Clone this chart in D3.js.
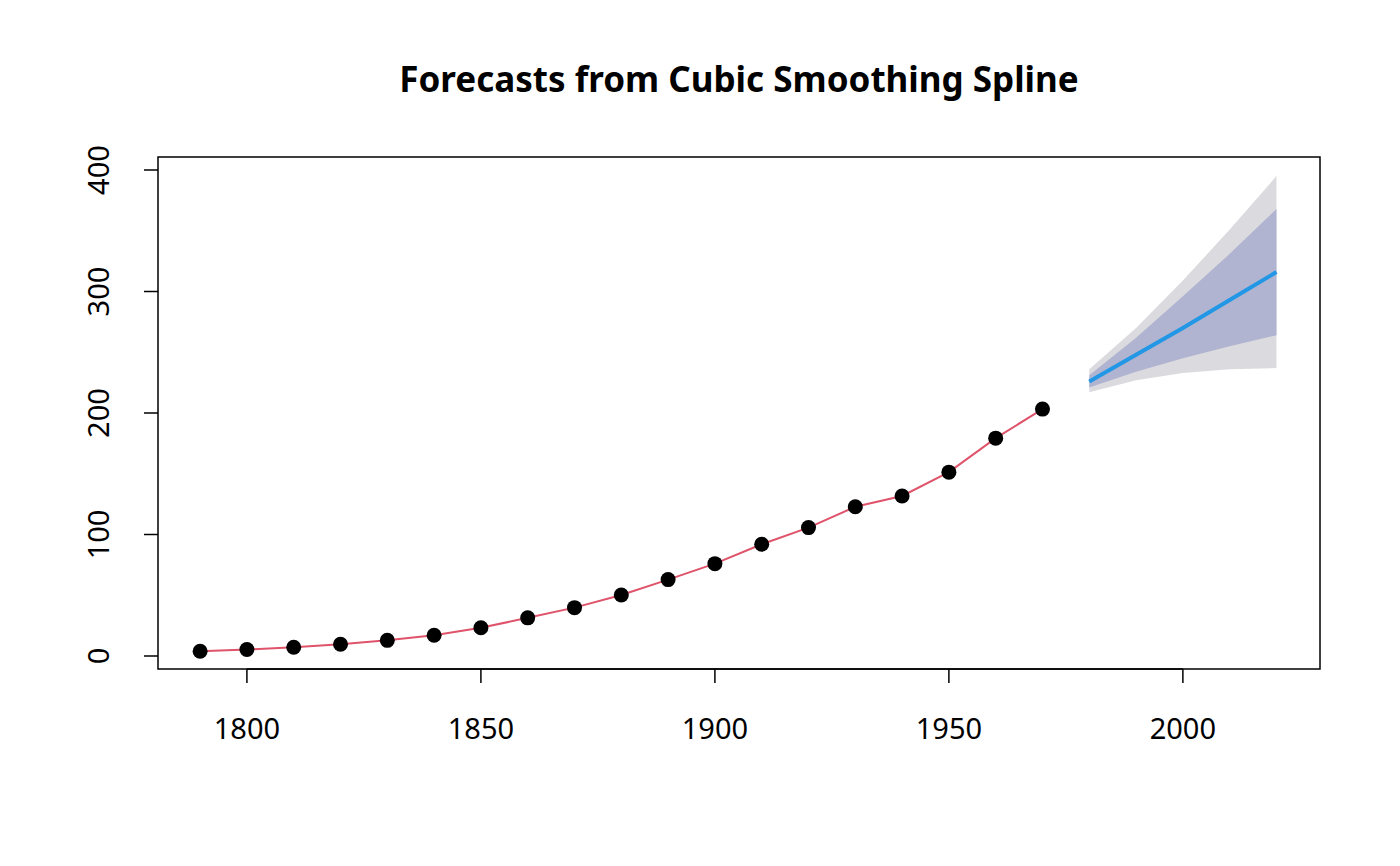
<!DOCTYPE html>
<html><head><meta charset="utf-8">
<script src="https://cdn.jsdelivr.net/npm/d3@7"></script>
<style>body{margin:0;background:#fff}text{font-family:"Noto Sans",sans-serif}</style>
</head><body><svg id="c" width="1400" height="866"></svg>
<script>
const years=[1790,1800,1810,1820,1830,1840,1850,1860,1870,1880,1890,1900,1910,1920,1930,1940,1950,1960,1970];
const pop=[3.93,5.31,7.24,9.64,12.9,17.1,23.2,31.4,39.8,50.2,62.9,76.0,92.0,105.7,122.8,131.7,151.3,179.3,203.2];
const fYears=[1980,1990,2000,2010,2020];
const fMean=[226,248,270,293,316];
const lo80=[221,234,245,255,264];
const hi80=[231,262,296,331,368];
const lo95=[217,227,233,236,237];
const hi95=[236,270,309,351,395];
const xTicks=[1800,1850,1900,1950,2000];
const yTicks=[0,100,200,300,400];

const svg=d3.select("#c");
const L=158,R=1320,T=157,B=669;
const x=d3.scaleLinear().domain([1781,2029.3]).range([L,R]);
const y=d3.scaleLinear().domain([-10.7,410.7]).range([B,T]);

svg.append("text").attr("x",739).attr("y",92).attr("text-anchor","middle")
 .attr("font-size",35).attr("font-weight","bold").text("Forecasts from Cubic Smoothing Spline");

const area=(lo,hi)=>d3.area().x((d,i)=>x(fYears[i])).y0((d,i)=>y(lo[i])).y1((d,i)=>y(hi[i]))(fYears);
svg.append("path").attr("d",area(lo95,hi95)).attr("fill","#dbdbdf");
svg.append("path").attr("d",area(lo80,hi80)).attr("fill","#b0b4d0");
svg.append("path").attr("d",d3.line().x((d,i)=>x(fYears[i])).y((d,i)=>y(fMean[i]))(fYears))
 .attr("fill","none").attr("stroke","#2297E6").attr("stroke-width",4);

svg.append("path").attr("d",d3.line().x((d,i)=>x(years[i])).y((d,i)=>y(pop[i]))(years))
 .attr("fill","none").attr("stroke","#DF536B").attr("stroke-width",2);
svg.selectAll("circle").data(years).enter().append("circle")
 .attr("cx",d=>x(d)).attr("cy",(d,i)=>y(pop[i])).attr("r",7.5).attr("fill","#000");

svg.append("rect").attr("x",L).attr("y",T).attr("width",R-L).attr("height",B-T)
 .attr("fill","none").attr("stroke","#000").attr("stroke-width",1.5);

const xa=svg.append("g");
xa.append("line").attr("x1",x(1800)).attr("x2",x(2000)).attr("y1",B).attr("y2",B).attr("stroke","#000").attr("stroke-width",1.5);
xTicks.forEach(t=>{
 xa.append("line").attr("x1",x(t)).attr("x2",x(t)).attr("y1",B).attr("y2",B+14).attr("stroke","#000").attr("stroke-width",1.5);
 xa.append("text").attr("x",x(t)).attr("y",739).attr("text-anchor","middle").attr("font-size",29).text(t);
});
const ya=svg.append("g");
yTicks.forEach(t=>{
 ya.append("line").attr("x1",L-14).attr("x2",L).attr("y1",y(t)).attr("y2",y(t)).attr("stroke","#000").attr("stroke-width",1.5);
 ya.append("text").attr("transform",`translate(109,${y(t)}) rotate(-90)`).attr("text-anchor","middle").attr("font-size",29).text(t);
});
</script></body></html>
